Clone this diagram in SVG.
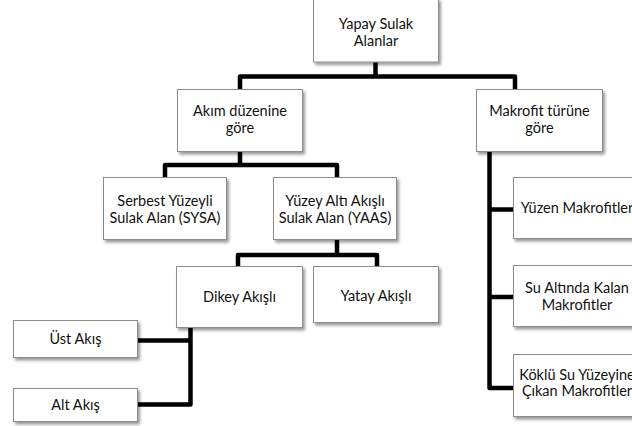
<svg xmlns="http://www.w3.org/2000/svg" width="632" height="426" viewBox="0 0 632 426">
  <defs>
    <filter id="shadow" x="-10%" y="-10%" width="125%" height="130%">
      <feDropShadow dx="2" dy="2.5" stdDeviation="1.5" flood-color="#000" flood-opacity="0.4"/>
    </filter>
    <style>
      .box { fill: #ffffff; stroke: #8c8c8c; stroke-width: 1; filter: url(#shadow); }
      .lbl { font-family: Lato, "Open Sans", "Liberation Sans", sans-serif; font-size: 14.5px; fill: #111111; text-anchor: middle; }
      .link { fill: none; stroke: #000; stroke-width: 4.5; stroke-linejoin: round; stroke-linecap: butt; }
    </style>
  </defs>
  <rect width="632" height="426" fill="#ffffff"/>

  <!-- connectors -->
  <g id="connectors">
    <path class="link" d="M375.5 62 V76.5"/>
    <path class="link" d="M240 89 V76.5 H515 V89"/>
    <path class="link" d="M240 151 V165"/>
    <path class="link" d="M165 177 V165 H337 V177"/>
    <path class="link" d="M337 240 V255"/>
    <path class="link" d="M238 266 V255 H377 V266"/>
    <path class="link" d="M190.5 328 V404.5 H138"/>
    <path class="link" d="M138 340.5 H190.5"/>
    <path class="link" d="M489.5 151 V388 H513"/>
    <path class="link" d="M489.5 209.5 H513"/>
    <path class="link" d="M489.5 297 H513"/>
  </g>

  <!-- nodes -->
  <g id="root">
    <rect class="box" x="313.5" y="-1" width="125" height="63"/>
    <text class="lbl" x="376" y="29">Yapay Sulak</text>
    <text class="lbl" x="376" y="46">Alanlar</text>
  </g>
  <g id="akim">
    <rect class="box" x="177.5" y="89.5" width="125" height="62"/>
    <text class="lbl" x="240" y="116">Akım düzenine</text>
    <text class="lbl" x="240" y="133">göre</text>
  </g>
  <g id="makrofit">
    <rect class="box" x="476.5" y="89.5" width="126" height="62"/>
    <text class="lbl" x="539.5" y="116">Makrofit türüne</text>
    <text class="lbl" x="539.5" y="133">göre</text>
  </g>
  <g id="sysa">
    <rect class="box" x="103.5" y="177.5" width="123" height="62"/>
    <text class="lbl" x="165" y="206">Serbest Yüzeyli</text>
    <text class="lbl" x="165" y="223">Sulak Alan (SYSA)</text>
  </g>
  <g id="yaas">
    <rect class="box" x="273.5" y="177.5" width="123" height="62"/>
    <text class="lbl" x="335" y="206">Yüzey Altı Akışlı</text>
    <text class="lbl" x="335" y="223">Sulak Alan (YAAS)</text>
  </g>
  <g id="dikey">
    <rect class="box" x="176.5" y="266.5" width="126" height="61"/>
    <text class="lbl" x="239.5" y="302">Dikey Akışlı</text>
  </g>
  <g id="yatay">
    <rect class="box" x="313.5" y="266.5" width="125" height="56"/>
    <text class="lbl" x="376" y="301">Yatay Akışlı</text>
  </g>
  <g id="ust">
    <rect class="box" x="13.5" y="320.5" width="124" height="37"/>
    <text class="lbl" x="75.5" y="344">Üst Akış</text>
  </g>
  <g id="alt">
    <rect class="box" x="13.5" y="388.5" width="124" height="33"/>
    <text class="lbl" x="75.5" y="410">Alt Akış</text>
  </g>
  <g id="yuzen">
    <rect class="box" x="513.5" y="177.5" width="127" height="61"/>
    <text class="lbl" x="577" y="213">Yüzen Makrofitler</text>
  </g>
  <g id="sualti">
    <rect class="box" x="513.5" y="265.5" width="127" height="61"/>
    <text class="lbl" x="577" y="293">Su Altında Kalan</text>
    <text class="lbl" x="577" y="310">Makrofitler</text>
  </g>
  <g id="koklu">
    <rect class="box" x="513.5" y="354.5" width="127" height="62"/>
    <text class="lbl" x="577" y="380">Köklü Su Yüzeyine</text>
    <text class="lbl" x="577" y="396">Çıkan Makrofitler</text>
  </g>
</svg>
